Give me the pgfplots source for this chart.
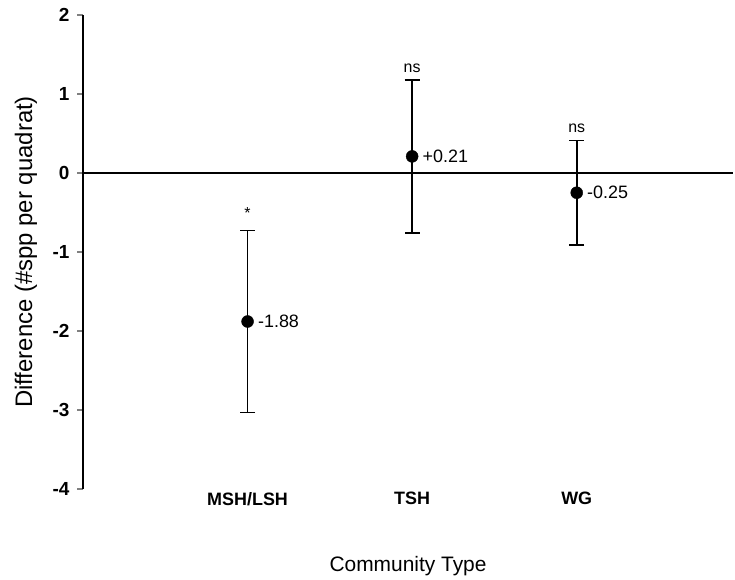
\documentclass[border=0pt]{standalone}
\usepackage{pgfplots}
\pgfplotsset{compat=1.18}
\usepackage{fontspec}
\setmainfont{Liberation Sans}

\begin{document}
\begin{tikzpicture}
\begin{axis}[
    scale only axis,
    width=650bp,
    height=474bp,
    xmin=0, xmax=3.95,
    ymin=-4, ymax=2,
    clip=false,
    axis y line*=left,
    axis x line*=bottom,
    x axis line style={draw=none},
    xtick={1,2,3},
    xticklabels={MSH/LSH, TSH, WG},
    xtick style={draw=none},
    ytick={-4,-3,...,2},
    tick align=outside,
    major tick length=6bp,
    y axis line style={line width=1.5pt},
    ytick style={line width=1.3pt},
    /pgf/number format/assume math mode=true,
    y tick label style={font=\fontsize{19}{21}\selectfont\bfseries, xshift=-4bp},
    x tick label style={font=\fontsize{18}{20}\selectfont\bfseries, inner sep=1bp, yshift=4bp},
    xlabel={Community Type},
    ylabel={Difference (\#spp per quadrat)},
    every axis x label/.style={at={(rel axis cs:0.5,-0.1624)}, anchor=center,
        font=\fontsize{21}{24}\selectfont},
    every axis y label/.style={at={(rel axis cs:-0.0877,0.5)}, anchor=center, rotate=90,
        font=\fontsize{24}{27}\selectfont},
]
% zero line
\addplot[black, line width=1.6pt, mark=none] coordinates {(0,0) (3.95,0)};

% means with error bars
\addplot[
    only marks, black,
    mark=*, mark size=6bp,
    error bars/.cd,
        y dir=both, y explicit,
        error mark options={black, line width=1.6pt, mark size=7.5bp, rotate=90},
        error bar style={line width=1.6pt, black},
] coordinates {
    (1,-1.88) +- (0,1.15)
    (2,0.21)  +- (0,0.97)
    (3,-0.25) +- (0,0.66)
};

% value labels
\addplot[
    draw=none, mark=none,
    nodes near coords,
    point meta=explicit symbolic,
    nodes near coords style={anchor=west, xshift=7bp, font=\fontsize{18}{20}\selectfont},
] coordinates {
    (1,-1.88) [-1.88]
    (2,0.21)  [+0.21]
    (3,-0.25) [-0.25]
};

% significance labels
\addplot[
    draw=none, mark=none,
    nodes near coords,
    point meta=explicit symbolic,
    nodes near coords style={anchor=south, font=\fontsize{16}{18}\selectfont},
] coordinates {
    (1,-0.62) [*]
    (2,1.22)  [ns]
    (3,0.46)  [ns]
};

\path (rel axis cs:-0.1277,-0.1835) rectangle (rel axis cs:1.003,1.0316);
\end{axis}
\end{tikzpicture}
\end{document}
